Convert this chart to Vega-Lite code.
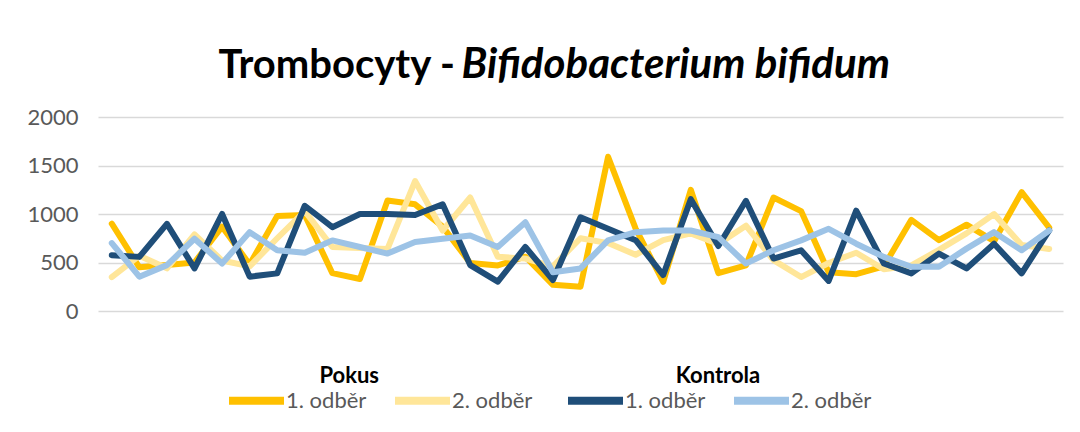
{
  "$schema": "https://vega.github.io/schema/vega-lite/v6.json",
  "width": 965,
  "height": 194,
  "autosize": {"type": "none"},
  "padding": {"left": 98, "top": 117, "right": 17, "bottom": 121},
  "background": "#ffffff",
  "config": {"view": {"stroke": null}, "font": "Lato"},
  "datasets": {
    "rows": [
      {"g":"Pokus","s":"1. odběr","n":1,"v":900},{"g":"Pokus","s":"1. odběr","n":2,"v":450},{"g":"Pokus","s":"1. odběr","n":3,"v":475},{"g":"Pokus","s":"1. odběr","n":4,"v":500},{"g":"Pokus","s":"1. odběr","n":5,"v":870},{"g":"Pokus","s":"1. odběr","n":6,"v":480},{"g":"Pokus","s":"1. odběr","n":7,"v":980},{"g":"Pokus","s":"1. odběr","n":8,"v":990},{"g":"Pokus","s":"1. odběr","n":9,"v":390},{"g":"Pokus","s":"1. odběr","n":10,"v":330},{"g":"Pokus","s":"1. odběr","n":11,"v":1140},{"g":"Pokus","s":"1. odběr","n":12,"v":1100},{"g":"Pokus","s":"1. odběr","n":13,"v":870},{"g":"Pokus","s":"1. odběr","n":14,"v":495},{"g":"Pokus","s":"1. odběr","n":15,"v":470},{"g":"Pokus","s":"1. odběr","n":16,"v":560},{"g":"Pokus","s":"1. odběr","n":17,"v":270},{"g":"Pokus","s":"1. odběr","n":18,"v":250},{"g":"Pokus","s":"1. odběr","n":19,"v":1590},{"g":"Pokus","s":"1. odběr","n":20,"v":850},{"g":"Pokus","s":"1. odběr","n":21,"v":300},{"g":"Pokus","s":"1. odběr","n":22,"v":1250},{"g":"Pokus","s":"1. odběr","n":23,"v":390},{"g":"Pokus","s":"1. odběr","n":24,"v":470},{"g":"Pokus","s":"1. odběr","n":25,"v":1170},{"g":"Pokus","s":"1. odběr","n":26,"v":1030},{"g":"Pokus","s":"1. odběr","n":27,"v":400},{"g":"Pokus","s":"1. odběr","n":28,"v":380},{"g":"Pokus","s":"1. odběr","n":29,"v":460},{"g":"Pokus","s":"1. odběr","n":30,"v":940},{"g":"Pokus","s":"1. odběr","n":31,"v":730},{"g":"Pokus","s":"1. odběr","n":32,"v":890},{"g":"Pokus","s":"1. odběr","n":33,"v":720},{"g":"Pokus","s":"1. odběr","n":34,"v":1225},{"g":"Pokus","s":"1. odběr","n":35,"v":860},
      {"g":"Pokus","s":"2. odběr","n":1,"v":350},{"g":"Pokus","s":"2. odběr","n":2,"v":570},{"g":"Pokus","s":"2. odběr","n":3,"v":440},{"g":"Pokus","s":"2. odběr","n":4,"v":790},{"g":"Pokus","s":"2. odběr","n":5,"v":520},{"g":"Pokus","s":"2. odběr","n":6,"v":460},{"g":"Pokus","s":"2. odběr","n":7,"v":750},{"g":"Pokus","s":"2. odběr","n":8,"v":1030},{"g":"Pokus","s":"2. odběr","n":9,"v":660},{"g":"Pokus","s":"2. odběr","n":10,"v":650},{"g":"Pokus","s":"2. odběr","n":11,"v":640},{"g":"Pokus","s":"2. odběr","n":12,"v":1340},{"g":"Pokus","s":"2. odběr","n":13,"v":830},{"g":"Pokus","s":"2. odběr","n":14,"v":1170},{"g":"Pokus","s":"2. odběr","n":15,"v":560},{"g":"Pokus","s":"2. odběr","n":16,"v":540},{"g":"Pokus","s":"2. odběr","n":17,"v":460},{"g":"Pokus","s":"2. odběr","n":18,"v":750},{"g":"Pokus","s":"2. odběr","n":19,"v":700},{"g":"Pokus","s":"2. odběr","n":20,"v":580},{"g":"Pokus","s":"2. odběr","n":21,"v":730},{"g":"Pokus","s":"2. odběr","n":22,"v":800},{"g":"Pokus","s":"2. odběr","n":23,"v":690},{"g":"Pokus","s":"2. odběr","n":24,"v":880},{"g":"Pokus","s":"2. odběr","n":25,"v":525},{"g":"Pokus","s":"2. odběr","n":26,"v":350},{"g":"Pokus","s":"2. odběr","n":27,"v":495},{"g":"Pokus","s":"2. odběr","n":28,"v":600},{"g":"Pokus","s":"2. odběr","n":29,"v":430},{"g":"Pokus","s":"2. odběr","n":30,"v":470},{"g":"Pokus","s":"2. odběr","n":31,"v":630},{"g":"Pokus","s":"2. odběr","n":32,"v":800},{"g":"Pokus","s":"2. odběr","n":33,"v":1000},{"g":"Pokus","s":"2. odběr","n":34,"v":680},{"g":"Pokus","s":"2. odběr","n":35,"v":640},
      {"g":"Kontrola","s":"1. odběr","n":1,"v":575},{"g":"Kontrola","s":"1. odběr","n":2,"v":558},{"g":"Kontrola","s":"1. odběr","n":3,"v":898},{"g":"Kontrola","s":"1. odběr","n":4,"v":439},{"g":"Kontrola","s":"1. odběr","n":5,"v":1000},{"g":"Kontrola","s":"1. odběr","n":6,"v":354},{"g":"Kontrola","s":"1. odběr","n":7,"v":388},{"g":"Kontrola","s":"1. odběr","n":8,"v":1085},{"g":"Kontrola","s":"1. odběr","n":9,"v":864},{"g":"Kontrola","s":"1. odběr","n":10,"v":1000},{"g":"Kontrola","s":"1. odběr","n":11,"v":1000},{"g":"Kontrola","s":"1. odběr","n":12,"v":990},{"g":"Kontrola","s":"1. odběr","n":13,"v":1100},{"g":"Kontrola","s":"1. odběr","n":14,"v":473},{"g":"Kontrola","s":"1. odběr","n":15,"v":303},{"g":"Kontrola","s":"1. odběr","n":16,"v":660},{"g":"Kontrola","s":"1. odběr","n":17,"v":320},{"g":"Kontrola","s":"1. odběr","n":18,"v":966},{"g":"Kontrola","s":"1. odběr","n":19,"v":847},{"g":"Kontrola","s":"1. odběr","n":20,"v":730},{"g":"Kontrola","s":"1. odběr","n":21,"v":371},{"g":"Kontrola","s":"1. odběr","n":22,"v":1153},{"g":"Kontrola","s":"1. odběr","n":23,"v":670},{"g":"Kontrola","s":"1. odběr","n":24,"v":1136},{"g":"Kontrola","s":"1. odběr","n":25,"v":541},{"g":"Kontrola","s":"1. odběr","n":26,"v":626},{"g":"Kontrola","s":"1. odběr","n":27,"v":310},{"g":"Kontrola","s":"1. odběr","n":28,"v":1034},{"g":"Kontrola","s":"1. odběr","n":29,"v":490},{"g":"Kontrola","s":"1. odběr","n":30,"v":388},{"g":"Kontrola","s":"1. odběr","n":31,"v":592},{"g":"Kontrola","s":"1. odběr","n":32,"v":439},{"g":"Kontrola","s":"1. odběr","n":33,"v":694},{"g":"Kontrola","s":"1. odběr","n":34,"v":388},{"g":"Kontrola","s":"1. odběr","n":35,"v":830},
      {"g":"Kontrola","s":"2. odběr","n":1,"v":700},{"g":"Kontrola","s":"2. odběr","n":2,"v":354},{"g":"Kontrola","s":"2. odběr","n":3,"v":473},{"g":"Kontrola","s":"2. odběr","n":4,"v":745},{"g":"Kontrola","s":"2. odběr","n":5,"v":490},{"g":"Kontrola","s":"2. odběr","n":6,"v":813},{"g":"Kontrola","s":"2. odběr","n":7,"v":626},{"g":"Kontrola","s":"2. odběr","n":8,"v":600},{"g":"Kontrola","s":"2. odběr","n":9,"v":728},{"g":"Kontrola","s":"2. odběr","n":10,"v":660},{"g":"Kontrola","s":"2. odběr","n":11,"v":592},{"g":"Kontrola","s":"2. odběr","n":12,"v":711},{"g":"Kontrola","s":"2. odběr","n":13,"v":745},{"g":"Kontrola","s":"2. odběr","n":14,"v":779},{"g":"Kontrola","s":"2. odběr","n":15,"v":660},{"g":"Kontrola","s":"2. odběr","n":16,"v":915},{"g":"Kontrola","s":"2. odběr","n":17,"v":400},{"g":"Kontrola","s":"2. odběr","n":18,"v":439},{"g":"Kontrola","s":"2. odběr","n":19,"v":728},{"g":"Kontrola","s":"2. odběr","n":20,"v":813},{"g":"Kontrola","s":"2. odběr","n":21,"v":830},{"g":"Kontrola","s":"2. odběr","n":22,"v":830},{"g":"Kontrola","s":"2. odběr","n":23,"v":762},{"g":"Kontrola","s":"2. odběr","n":24,"v":490},{"g":"Kontrola","s":"2. odběr","n":25,"v":626},{"g":"Kontrola","s":"2. odběr","n":26,"v":728},{"g":"Kontrola","s":"2. odběr","n":27,"v":847},{"g":"Kontrola","s":"2. odběr","n":28,"v":694},{"g":"Kontrola","s":"2. odběr","n":29,"v":558},{"g":"Kontrola","s":"2. odběr","n":30,"v":456},{"g":"Kontrola","s":"2. odběr","n":31,"v":456},{"g":"Kontrola","s":"2. odběr","n":32,"v":643},{"g":"Kontrola","s":"2. odběr","n":33,"v":813},{"g":"Kontrola","s":"2. odběr","n":34,"v":626},{"g":"Kontrola","s":"2. odběr","n":35,"v":830}
    ]
  },
  "data": {"name": "rows"},
  "encoding": {
    "x": {
      "field": "n", "type": "ordinal",
      "scale": {"padding": 0.5},
      "axis": {
        "orient": "top", "labels": false, "ticks": false, "domain": false, "grid": false,
        "title": "Bifidobacterium bifidum",
        "titleFont": "Lato", "titleFontSize": 42, "titleFontStyle": "italic", "titleFontWeight": "bold",
        "titleColor": "#000000", "titleAnchor": "start", "titleAlign": "left", "titleBaseline": "alphabetic",
        "titleX": 363, "titleY": -40
      }
    },
    "y": {
      "field": "v", "type": "quantitative",
      "scale": {"domain": [0, 2000], "nice": false},
      "axis": {
        "title": "Trombocyty -",
        "titleAngle": 0, "titleX": 120, "titleY": -40, "titleAlign": "left", "titleBaseline": "alphabetic",
        "titleFont": "Lato", "titleFontSize": 40, "titleFontWeight": "bold", "titleColor": "#000000",
        "values": [0, 500, 1000, 1500, 2000], "format": "d",
        "grid": true, "gridColor": "#D9D9D9", "gridWidth": 1.5,
        "domain": false, "ticks": false, "labelPadding": 20,
        "labelFont": "Lato", "labelFontSize": 22, "labelColor": "#595959"
      }
    }
  },
  "layer": [
    {
      "transform": [{"filter": "datum.g == 'Pokus'"}],
      "mark": {"type": "line", "strokeWidth": 6, "strokeJoin": "round", "strokeCap": "round"},
      "encoding": {
        "color": {
          "field": "s", "type": "nominal",
          "scale": {"domain": ["1. odběr", "2. odběr"], "range": ["#FFC000", "#FFE699"]},
          "legend": {
            "orient": "none", "legendX": 127, "legendY": 249, "direction": "horizontal",
            "title": "Pokus", "titleFont": "Lato", "titleFontSize": 22, "titleFontWeight": "bold", "titleColor": "#000000",
            "titleAnchor": "middle", "titleAlign": "right", "titlePadding": -19,
            "labelFont": "Lato", "labelFontSize": 22, "labelColor": "#595959", "labelOffset": -2,
            "symbolType": "stroke", "symbolSize": 3025, "symbolStrokeWidth": 8, "columnPadding": 12
          }
        }
      }
    },
    {
      "transform": [{"filter": "datum.g == 'Kontrola'"}],
      "mark": {"type": "line", "strokeWidth": 6, "strokeJoin": "round", "strokeCap": "round"},
      "encoding": {
        "color": {
          "field": "s", "type": "nominal",
          "scale": {"domain": ["1. odběr", "2. odběr"], "range": ["#1F4E79", "#9DC3E6"]},
          "legend": {
            "orient": "none", "legendX": 466, "legendY": 249, "direction": "horizontal",
            "title": "Kontrola", "titleFont": "Lato", "titleFontSize": 22, "titleFontWeight": "bold", "titleColor": "#000000",
            "titleAnchor": "middle", "titleAlign": "center", "titlePadding": -19,
            "labelFont": "Lato", "labelFontSize": 22, "labelColor": "#595959", "labelOffset": -2,
            "symbolType": "stroke", "symbolSize": 3025, "symbolStrokeWidth": 8, "columnPadding": 12
          }
        }
      }
    }
  ],
  "resolve": {"scale": {"color": "independent"}}
}
